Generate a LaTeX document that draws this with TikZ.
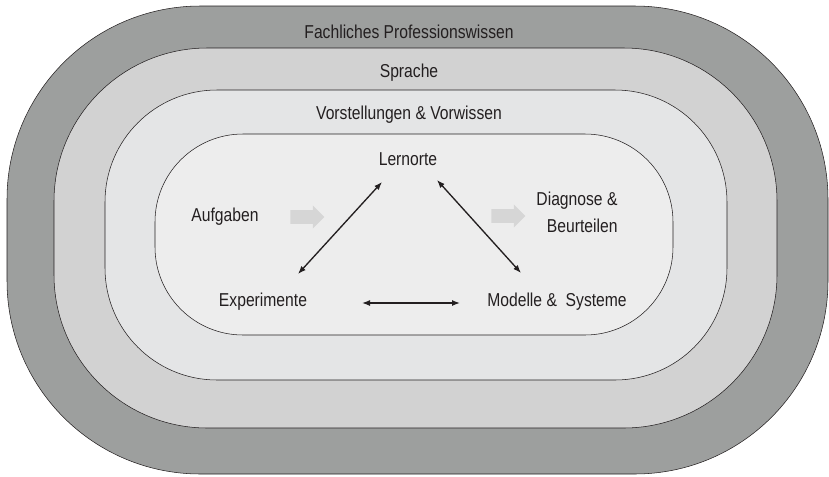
\documentclass[tikz,border=0pt]{standalone}
\usepackage{fontspec}
\setmainfont[FakeStretch=0.84]{Liberation Sans}
\usetikzlibrary{arrows.meta,positioning,shapes.arrows,fit}

\definecolor{ringA}{HTML}{9D9F9E}
\definecolor{ringB}{HTML}{D2D2D2}
\definecolor{ringC}{HTML}{E4E5E6}
\definecolor{ringD}{HTML}{EDEDED}
\definecolor{flowgray}{HTML}{D6D6D6}
\definecolor{ink}{HTML}{231F20}

\begin{document}
\begin{tikzpicture}[
  x=0.75pt, y=-0.75pt,
  font=\fontsize{14}{20}\selectfont,
  layer/.style={draw=ink, line width=0.4pt, inner sep=0pt},
  lbl/.style={text=ink, inner sep=1pt},
  rel/.style={draw=ink, line width=1pt, {Latex[length=6pt,width=4.5pt]}-{Latex[length=6pt,width=4.5pt]}},
  flow/.style={single arrow, fill=flowgray, draw=none, inner sep=4.9pt,
    minimum height=25.5pt, minimum width=17pt, single arrow head extend=3.6pt}
]
\useasboundingbox (0,0) rectangle (829,476);

% nested layers
\node[layer, fill=ringA, rounded corners=145pt, fit={(7,6) (828,474)}] (prof) {};
\node[layer, fill=ringB, rounded corners=115pt, fit={(54,48) (777,428)}] (spr) {};
\node[layer, fill=ringC, rounded corners=84pt, fit={(105,90) (727,380)}] (vor) {};
\node[layer, fill=ringD, rounded corners=66pt, fit={(155,134) (673,335)}] (kern) {};

\node[lbl] at (409,32) (profl) {Fachliches Professionswissen};
\node[lbl] at (409,73) (sprl) {Sprache};
\node[lbl] at (409,115) (vorl) {Vorstellungen \& Vorwissen};

% inner triangle
\node[lbl] at (408,159) (lern) {Lernorte};
\node[lbl] at (263,302) (exp) {Experimente};
\node[lbl] at (557,302) (mod) {Modelle \& \ Systeme};
\node[lbl] at (225,217) (aufg) {Aufgaben};
\node[lbl, align=right] at (577,212) (diag) {Diagnose \&\\Beurteilen};

\node[flow] at (304,217) (fa) {};
\node[flow] at (505,216) (fb) {};

\draw[rel] ([shift={(-26,23)}]lern.center) -- ([shift={(35,-28)}]exp.center);
\draw[rel] ([shift={(29,21)}]lern.center) -- ([shift={(-36,-29)}]mod.center);
\draw[rel] ([shift={(99,1)}]exp.center) -- ([shift={(-97,1)}]mod.center);
\end{tikzpicture}
\end{document}
